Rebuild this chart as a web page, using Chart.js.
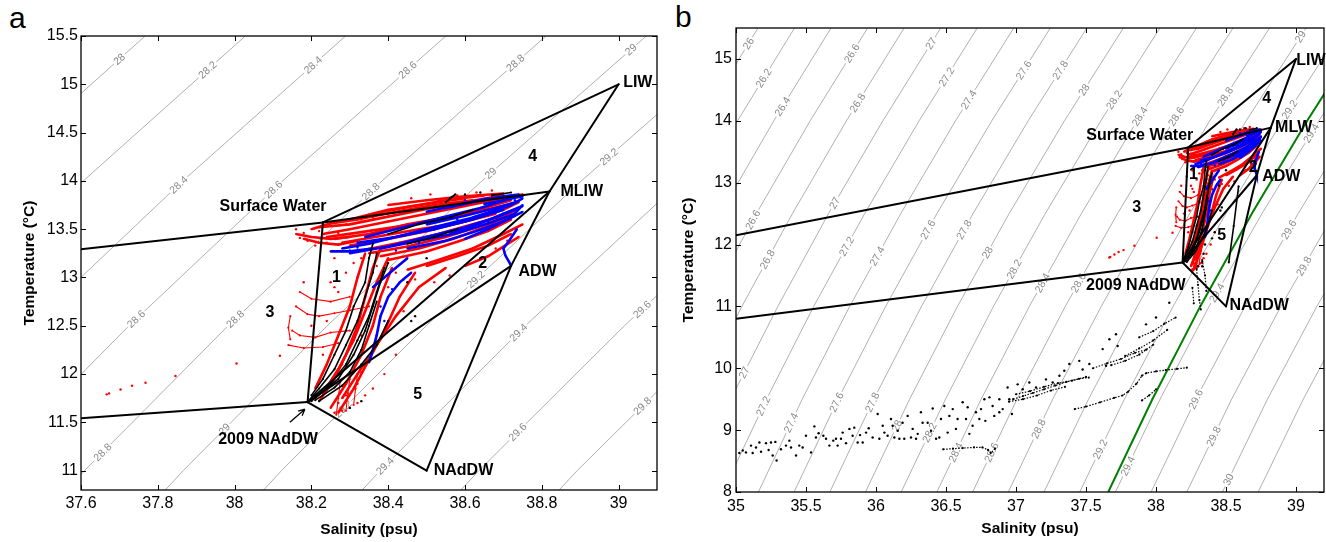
<!DOCTYPE html>
<html>
<head>
<meta charset="utf-8">
<title>T-S diagrams</title>
<script src="https://cdn.jsdelivr.net/npm/chart.js@4.4.1/dist/chart.umd.min.js"></script>
<style>
  body { margin: 0; background: #fff; width: 1326px; height: 542px; position: relative; overflow: hidden;
         font-family: "Liberation Sans", Arial, Helvetica, sans-serif; }
  .panel { position: absolute; top: 0; width: 663px; height: 542px; }
  #wrapA { left: 0; }
  #wrapB { left: 663px; }
  .letter { position: absolute; font-size: 30px; line-height: 30px; color: #000; }
</style>
</head>
<body>
<div class="letter" style="left:9px;top:3px">a</div>
<div class="letter" style="left:675px;top:2px">b</div>
<div class="panel" id="wrapA"><canvas id="chartA" width="663" height="542"></canvas></div>
<div class="panel" id="wrapB"><canvas id="chartB" width="663" height="542"></canvas></div>

<script>
// ---- isopycnals (sigma-theta), salinity at fixed temperatures ----
const isoTemps = [8, 9.5, 11, 12.5, 14, 15.5];
const isoLevels = ['26', '26.2', '26.4', '26.6', '26.8', '27', '27.2', '27.4', '27.6', '27.8',
                   '28', '28.2', '28.4', '28.6', '28.8', '29', '29.2', '29.4', '29.6', '29.8', '30', '30.2'];
const isoSal = [
  [33.375, 33.684, 34.015, 34.371, 34.751, 35.157],
  [33.630, 33.940, 34.272, 34.629, 35.011, 35.418],
  [33.885, 34.195, 34.528, 34.887, 35.270, 35.679],
  [34.140, 34.451, 34.785, 35.145, 35.530, 35.940],
  [34.395, 34.706, 35.042, 35.403, 35.789, 36.201],
  [34.650, 34.962, 35.299, 35.661, 36.049, 36.462],
  [34.905, 35.218, 35.555, 35.919, 36.308, 36.723],
  [35.160, 35.473, 35.812, 36.177, 36.568, 36.984],
  [35.415, 35.729, 36.069, 36.435, 36.827, 37.245],
  [35.670, 35.984, 36.325, 36.693, 37.087, 37.506],
  [35.925, 36.240, 36.582, 36.951, 37.346, 37.767],
  [36.180, 36.496, 36.839, 37.209, 37.606, 38.028],
  [36.435, 36.751, 37.095, 37.467, 37.865, 38.289],
  [36.690, 37.007, 37.352, 37.725, 38.125, 38.550],
  [36.945, 37.262, 37.609, 37.983, 38.384, 38.811],
  [37.200, 37.518, 37.866, 38.241, 38.644, 39.072],
  [37.455, 37.774, 38.122, 38.499, 38.903, 39.333],
  [37.710, 38.029, 38.379, 38.757, 39.163, 39.594],
  [37.965, 38.285, 38.636, 39.015, 39.422, 39.855],
  [38.220, 38.540, 38.892, 39.273, 39.682, 40.116],
  [38.475, 38.796, 39.149, 39.531, 39.941, 40.377],
  [38.730, 39.052, 39.406, 39.789, 40.201, 40.638]
];
// contour labels: [level, temperature where the label sits]
const isoLabelsA = [
  ['28', 15.26], ['28.2', 15.15], ['28.4', 15.2], ['28.4', 13.96], ['28.6', 15.15], ['28.6', 13.91],
  ['28.6', 12.57], ['28.8', 15.22], ['28.8', 13.89], ['28.8', 12.57], ['28.8', 11.19], ['29', 15.36],
  ['29', 14.08], ['29', 11.43], ['29.2', 14.25], ['29.2', 12.98], ['29.2', 11.64], ['29.4', 12.43],
  ['29.4', 11.05], ['29.6', 12.67], ['29.6', 11.4], ['29.8', 11.67]
];
const isoLabelsB = [
  ['26', 15.25], ['26.2', 14.69], ['26.4', 14.23], ['26.6', 15.09], ['26.8', 14.29], ['27', 15.25],
  ['27.2', 14.71], ['27.4', 14.34], ['26.6', 12.4], ['27', 12.67], ['26.8', 11.76], ['27.2', 11.97],
  ['27.4', 11.81], ['27.6', 12.24], ['27.8', 12.24], ['28', 11.87], ['27.6', 14.82], ['27.8', 14.82],
  ['28', 14.5], ['28.2', 14.34], ['28.4', 14.07], ['28.6', 14.07], ['28.8', 14.39], ['29', 15.36],
  ['29.2', 14.18], ['29.4', 13.8], ['29.6', 12.24], ['29.8', 11.65], ['28.2', 11.6], ['28.4', 11.38],
  ['28.6', 11.38], ['29.4', 11.22], ['27', 9.93], ['27.2', 9.39], ['27.4', 9.12], ['27.6', 9.45],
  ['27.8', 9.45], ['28', 9.07], ['28.2', 8.96], ['28.4', 8.64], ['28.6', 8.64], ['28.8', 9.02],
  ['29.2', 8.69], ['29.4', 8.42], ['29.6', 9.5], ['29.8', 8.9], ['30', 8.2]
];

// ---- water mass end-members and mixing triangles ----
const massNames = ['Surface Water', 'LIW', 'MLIW', 'ADW', '2009 NAdDW', 'NAdDW'];
const massSal = [38.23, 39.0, 38.82, 38.72, 38.19, 38.5];
const massTemp = [13.57, 15.0, 13.89, 13.12, 11.71, 11.0];
const massEdges = [[0, 1], [1, 2], [2, 3], [3, 5], [5, 4], [4, 3], [4, 2], [2, 0], [0, 4]];
// lines running off to the west from Surface Water and 2009 NAdDW
const westFrom = [0, 4];
const westSal = [35.0, 35.0];
const westTemp = [12.15, 10.8];

// isopycnal drawn in green on panel b
const greenTemp = [8, 9.5, 11, 12.5, 14, 15.5];
const greenSal = [37.659, 37.974, 38.316, 38.685, 39.08, 39.501];

// ---- observations (salinity, temperature) ----
const redTracks = [
  [[38.23, 13.45], [38.30, 13.50], [38.40, 13.58], [38.50, 13.66], [38.60, 13.74], [38.70, 13.82], [38.75, 13.86]],
  [[38.26, 13.40], [38.35, 13.45], [38.45, 13.55], [38.55, 13.62], [38.65, 13.72], [38.72, 13.80]],
  [[38.30, 13.33], [38.40, 13.40], [38.50, 13.48], [38.60, 13.58], [38.70, 13.70], [38.74, 13.78]],
  [[38.35, 13.25], [38.45, 13.32], [38.55, 13.42], [38.63, 13.52], [38.70, 13.62], [38.74, 13.72]],
  [[38.40, 13.18], [38.50, 13.27], [38.58, 13.37], [38.66, 13.48], [38.72, 13.60]],
  [[38.45, 13.08], [38.53, 13.18], [38.62, 13.30], [38.70, 13.45], [38.75, 13.55]],
  [[38.40, 13.75], [38.50, 13.80], [38.60, 13.84], [38.70, 13.87]],
  [[38.20, 13.50], [38.25, 13.56], [38.32, 13.60], [38.42, 13.68], [38.52, 13.75], [38.62, 13.80]],
  [[38.16, 13.45], [38.20, 13.42], [38.25, 13.40], [38.30, 13.42]],
  [[38.22, 13.52], [38.30, 13.55], [38.40, 13.63], [38.50, 13.71], [38.60, 13.78], [38.70, 13.85]],
  [[38.24, 13.42], [38.33, 13.47], [38.43, 13.53], [38.53, 13.60], [38.63, 13.68], [38.72, 13.76]],
  [[38.28, 13.36], [38.38, 13.43], [38.48, 13.50], [38.58, 13.56], [38.68, 13.66]],
  [[38.33, 13.28], [38.43, 13.36], [38.53, 13.45], [38.62, 13.55], [38.72, 13.66]],
  [[38.38, 13.22], [38.48, 13.30], [38.57, 13.40], [38.65, 13.52], [38.73, 13.64]],
  [[38.50, 13.12], [38.58, 13.22], [38.66, 13.33], [38.72, 13.45]],
  [[38.60, 13.12], [38.66, 13.22], [38.70, 13.32], [38.74, 13.42]],
  [[38.30, 13.60], [38.40, 13.70], [38.50, 13.76], [38.60, 13.82]],
  [[38.35, 13.65], [38.45, 13.73], [38.55, 13.80], [38.65, 13.85]],
  [[38.18, 13.40], [38.22, 13.36], [38.27, 13.34], [38.32, 13.38]],
  [[38.22, 11.72], [38.26, 11.95], [38.29, 12.20], [38.32, 12.50], [38.34, 12.80], [38.36, 13.10], [38.38, 13.30]],
  [[38.25, 11.65], [38.29, 11.90], [38.33, 12.20], [38.36, 12.50], [38.38, 12.80], [38.41, 13.10]],
  [[38.27, 11.60], [38.31, 11.85], [38.35, 12.15], [38.39, 12.45], [38.43, 12.80], [38.47, 13.05]],
  [[38.21, 11.85], [38.24, 12.10], [38.27, 12.40], [38.30, 12.70], [38.32, 13.00], [38.34, 13.25]],
  [[38.28, 11.75], [38.32, 12.00], [38.37, 12.30], [38.42, 12.60], [38.48, 12.90], [38.55, 13.10]],
  [[38.23, 11.80], [38.27, 12.05], [38.31, 12.35], [38.34, 12.65], [38.37, 12.95], [38.40, 13.20]]
];
// thin, sparse red profiles west of the main cloud
const redThinTracks = [
  [[38.265, 11.58], [38.27, 11.75], [38.275, 11.92]],
  [[38.29, 11.62], [38.295, 11.80], [38.30, 11.95]],
  [[38.31, 11.68], [38.315, 11.85], [38.32, 12.00]],
  [[38.16, 12.70], [38.19, 12.62], [38.22, 12.60], [38.26, 12.63], [38.30, 12.66], [38.35, 12.70]],
  [[38.15, 12.45], [38.17, 12.40], [38.21, 12.38], [38.25, 12.43], [38.30, 12.45]],
  [[38.14, 12.30], [38.18, 12.27], [38.23, 12.28], [38.27, 12.32]],
  [[38.17, 12.85], [38.20, 12.78], [38.25, 12.75], [38.30, 12.80]],
  [[38.145, 12.60], [38.14, 12.48], [38.145, 12.36]]
];
const redDots = [
  [38.16, 13.50], [38.18, 13.46], [38.19, 13.38], [38.21, 13.33], [38.17, 13.41], [38.22, 13.48], [38.24, 13.36],
  [38.27, 13.46], [38.29, 13.55], [38.33, 13.58], [38.36, 13.62], [38.39, 13.66], [38.44, 13.70], [38.47, 13.74],
  [38.53, 13.79], [38.58, 13.85], [38.63, 13.88], [38.67, 13.90], [38.46, 13.82], [38.51, 13.86],
  [38.33, 13.20], [38.37, 13.12], [38.42, 13.05], [38.47, 12.98], [38.52, 12.95], [38.56, 13.02], [38.60, 13.12],
  [38.64, 13.20], [38.68, 13.30], [38.71, 13.38], [38.25, 12.95], [38.27, 12.85], [38.29, 13.05], [38.31, 13.15],
  [38.24, 12.55], [38.26, 12.30], [38.28, 12.10], [38.33, 12.02], [38.36, 11.85], [38.39, 12.00], [38.42, 12.20],
  [38.45, 12.40], [38.44, 12.65], [38.40, 12.90], [38.26, 11.60], [38.28, 11.62], [38.30, 11.65], [38.32, 11.70],
  [38.34, 11.78], [38.27, 11.70], [38.29, 11.78], [38.18, 12.95], [38.22, 13.10], [38.26, 13.20], [38.20, 12.50],
  [38.23, 12.20], [38.26, 12.90], [38.32, 11.90], [38.33, 12.40],
  [37.667, 11.79], [37.673, 11.80], [37.703, 11.84], [37.733, 11.88], [37.768, 11.91], [37.846, 11.98],
  [38.005, 12.11], [38.118, 12.19]
];
const blueTracks = [
  [[38.28, 13.30], [38.35, 13.35], [38.45, 13.45], [38.55, 13.55], [38.65, 13.65], [38.72, 13.75], [38.75, 13.82]],
  [[38.30, 13.25], [38.40, 13.32], [38.50, 13.42], [38.60, 13.52], [38.68, 13.62], [38.74, 13.72]],
  [[38.34, 13.42], [38.44, 13.52], [38.54, 13.62], [38.64, 13.72], [38.72, 13.82]],
  [[38.45, 13.30], [38.55, 13.38], [38.63, 13.48], [38.70, 13.58], [38.75, 13.68]],
  [[38.55, 13.72], [38.62, 13.78], [38.70, 13.84], [38.74, 13.86]],
  [[38.60, 13.40], [38.66, 13.50], [38.72, 13.62], [38.75, 13.75]],
  [[38.50, 13.68], [38.58, 13.75], [38.66, 13.82]],
  [[38.32, 13.36], [38.42, 13.42], [38.52, 13.50], [38.62, 13.60], [38.70, 13.70]],
  [[38.38, 13.30], [38.48, 13.38], [38.58, 13.46], [38.66, 13.56], [38.73, 13.66]],
  [[38.50, 13.55], [38.60, 13.64], [38.68, 13.72], [38.74, 13.79]],
  [[38.56, 13.45], [38.64, 13.56], [38.70, 13.66], [38.75, 13.74]],
  [[38.62, 13.62], [38.68, 13.70], [38.73, 13.77]],
  [[38.65, 13.76], [38.70, 13.80], [38.75, 13.84]],
  [[38.25, 13.27], [38.30, 13.27], [38.36, 13.30]],
  [[38.735, 13.50], [38.715, 13.38], [38.70, 13.30], [38.705, 13.23], [38.715, 13.16], [38.72, 13.12]],
  [[38.35, 12.12], [38.36, 12.25], [38.37, 12.40], [38.38, 12.60], [38.40, 12.80], [38.43, 12.95], [38.46, 13.05]],
  [[38.36, 12.90], [38.39, 13.00], [38.42, 13.10], [38.45, 13.20]]
];
const blueDots = [
  [38.30, 13.28], [38.32, 13.31], [38.38, 13.38], [38.42, 13.28], [38.48, 13.36], [38.52, 13.50], [38.58, 13.60],
  [38.62, 13.66], [38.66, 13.58], [38.70, 13.66], [38.68, 13.78], [38.73, 13.80], [38.60, 13.80], [38.38, 12.70],
  [38.39, 12.55], [38.41, 12.88], [38.44, 12.98]
];
const blackTracks = [
  [[38.19, 11.71], [38.22, 11.85], [38.26, 12.05], [38.29, 12.30], [38.32, 12.55], [38.34, 12.80], [38.36, 13.05], [38.37, 13.25]],
  [[38.20, 11.72], [38.25, 11.90], [38.29, 12.10], [38.32, 12.35], [38.35, 12.60], [38.37, 12.85], [38.39, 13.10]],
  [[38.21, 11.75], [38.27, 11.95], [38.31, 12.20], [38.34, 12.45], [38.36, 12.70], [38.38, 12.95], [38.40, 13.15]],
  [[38.20, 11.78], [38.23, 11.95], [38.26, 12.20], [38.29, 12.45], [38.31, 12.70], [38.34, 12.95], [38.35, 13.20], [38.36, 13.35]],
  [[38.22, 11.72], [38.28, 11.88], [38.33, 12.10], [38.37, 12.30], [38.40, 12.55]],
  [[38.21, 11.73], [38.26, 11.86], [38.30, 12.02], [38.33, 12.25], [38.35, 12.50], [38.37, 12.75]],
  [[38.40, 13.45], [38.48, 13.55], [38.56, 13.62], [38.62, 13.70]],
  [[38.55, 13.78], [38.575, 13.86], [38.56, 13.82]],
  [[38.67, 13.85], [38.72, 13.88]],
  [[38.45, 13.35], [38.52, 13.42], [38.58, 13.50]]
];
const blackDots = [
  [38.46, 12.55], [38.47, 12.60], [38.30, 11.65], [38.33, 11.72], [38.45, 12.95], [38.50, 13.20], [38.60, 13.86], [38.64, 13.88]
];
// deeper / fresher stations, only on panel b
const lowerTracks = [
  [[36.98, 9.50], [37.05, 9.55], [37.12, 9.60], [37.20, 9.66], [37.28, 9.72], [37.36, 9.78], [37.45, 9.83], [37.52, 9.85]],
  [[37.00, 9.58], [37.10, 9.63], [37.20, 9.70], [37.30, 9.76], [37.40, 9.80], [37.50, 9.86]],
  [[36.95, 9.46], [37.05, 9.50], [37.15, 9.56], [37.25, 9.64], [37.35, 9.70]],
  [[36.48, 8.69], [36.55, 8.70], [36.62, 8.71], [36.70, 8.72], [36.76, 8.72], [36.80, 8.68], [36.82, 8.63], [36.85, 8.70]],
  [[37.42, 9.34], [37.50, 9.38], [37.60, 9.45], [37.70, 9.52], [37.76, 9.56], [37.80, 9.62], [37.86, 9.75], [37.90, 9.88],
   [37.93, 9.92], [38.00, 9.95], [38.07, 9.97], [38.15, 9.99], [38.22, 10.01]],
  [[37.90, 9.48], [37.95, 9.56], [38.00, 9.66]],
  [[37.55, 10.00], [37.65, 10.08], [37.75, 10.15], [37.85, 10.25], [37.93, 10.30]],
  [[37.68, 10.05], [37.78, 10.12], [37.88, 10.22], [37.98, 10.38]],
  [[37.78, 10.20], [37.88, 10.32], [37.98, 10.45], [38.08, 10.62]],
  [[37.88, 10.50], [37.98, 10.60], [38.06, 10.72], [38.14, 10.82]],
  [[38.29, 11.60], [38.30, 11.35], [38.31, 11.10], [38.32, 10.95]],
  [[38.33, 11.75], [38.35, 11.50], [38.36, 11.25]],
  [[38.26, 11.30], [38.27, 11.05]]
];
const lowerLines = [
  [[38.59, 12.94], [38.555, 12.30], [38.52, 11.71]]
];
const lowerDots = [
  [35.024, 8.63], [35.071, 8.64], [35.107, 8.75], [35.143, 8.72], [35.179, 8.65], [35.214, 8.79], [35.25, 8.80],
  [35.281, 8.81], [35.29, 8.51], [35.321, 8.69], [35.357, 8.75], [35.393, 8.72], [35.429, 8.59], [35.452, 8.75],
  [35.5, 8.91], [35.536, 8.64], [35.56, 9.06], [35.59, 8.95], [35.624, 8.91], [35.667, 8.75], [35.695, 8.83],
  [35.714, 8.86], [35.75, 8.86], [35.786, 8.79], [35.81, 9.02], [35.845, 9.04], [35.886, 8.92], [35.905, 8.80],
  [35.948, 9.03], [35.976, 8.88], [36.012, 9.26], [36.048, 9.07], [36.083, 8.91], [36.107, 9.18], [36.131, 8.88],
  [36.167, 8.86], [36.202, 8.86], [36.226, 9.23], [36.25, 8.88], [36.286, 8.86], [36.321, 9.29], [36.369, 9.12],
  [36.405, 9.35], [36.429, 8.86], [36.452, 8.88], [36.488, 9.39], [36.512, 8.96], [36.548, 9.34], [36.583, 9.18],
  [36.619, 9.45], [36.655, 9.37], [36.667, 8.94], [36.714, 9.29], [36.75, 9.34], [36.781, 9.15], [36.81, 9.53],
  [36.845, 9.23], [36.881, 9.50], [36.905, 9.34], [36.94, 9.69], [36.971, 9.26], [37.012, 9.74], [37.095, 9.77],
  [37.214, 9.82], [37.345, 9.96], [37.381, 10.07], [37.452, 10.12], [37.643, 10.04], [37.714, 10.55], [37.726, 10.36],
  [37.929, 10.71], [38.0, 10.82], [38.095, 11.06],
  [35.048, 8.67], [35.119, 8.63], [35.167, 8.80], [35.233, 8.68], [35.262, 8.59], [35.381, 8.83], [35.476, 8.72],
  [35.571, 8.88], [35.643, 8.86], [35.726, 8.75], [35.762, 8.96], [35.833, 8.91], [35.869, 8.80], [35.929, 8.96],
  [36.024, 8.86], [36.06, 8.96], [36.119, 9.07], [36.155, 8.99], [36.19, 9.12], [36.262, 9.02], [36.298, 8.94],
  [36.333, 9.12], [36.393, 8.99], [36.464, 9.18], [36.524, 9.23], [36.571, 9.02], [36.643, 9.18], [36.69, 9.07],
  [36.738, 9.18], [36.774, 9.50], [36.833, 9.39], [36.881, 9.29], [36.952, 9.50], [37.048, 9.66], [37.143, 9.69],
  [37.262, 9.77], [37.31, 9.88], [37.476, 9.98], [37.524, 10.07], [37.619, 10.31], [37.667, 10.47],
  [38.35, 12.0], [38.34, 11.85], [38.33, 11.65], [38.40, 12.1], [38.42, 12.2]
];

// ---- axes ----
const salTicksA = [37.6, 37.8, 38, 38.2, 38.4, 38.6, 38.8, 39];
const tempTicksA = [11, 11.5, 12, 12.5, 13, 13.5, 14, 14.5, 15, 15.5];
const salTicksB = [35, 35.5, 36, 36.5, 37, 37.5, 38, 38.5, 39];
const tempTicksB = [8, 9, 10, 11, 12, 13, 14, 15];

// ---- text on the panels: [text, salinity, temperature] ----
const notesA = [
  ['Surface Water', 38.10, 13.73], ['LIW', 39.05, 15.02], ['4', 38.776, 14.25], ['MLIW', 38.904, 13.89],
  ['ADW', 38.789, 13.065], ['2', 38.646, 13.145], ['1', 38.265, 13.0], ['3', 38.092, 12.635],
  ['5', 38.477, 11.79], ['2009 NAdDW', 38.087, 11.327], ['NAdDW', 38.596, 11.0]
];
const notesB = [
  ['Surface Water', 37.884, 13.758], ['LIW', 39.107, 14.97], ['4', 38.791, 14.366], ['MLW', 38.984, 13.892],
  ['ADW', 38.895, 13.102], ['2', 38.695, 13.237], ['1', 38.267, 13.129], ['3', 37.862, 12.592],
  ['5', 38.469, 12.145], ['2009 NAdDW', 37.856, 11.339], ['NAdDW', 38.737, 11.005]
];
const arrowA = [[38.144, 11.502], [38.183, 11.636]];

const FONT = "'Liberation Sans', Arial, Helvetica, sans-serif";
Chart.defaults.font.family = FONT;
Chart.defaults.color = '#000';

const xy = p => ({ x: p[0], y: p[1] });

function isoSets() {
  return isoSal.map((row, i) => ({
    label: 'sigma ' + isoLevels[i],
    data: row.map((s, j) => ({ x: s, y: isoTemps[j] })),
    showLine: true, borderColor: '#9c9c9c', borderWidth: 0.8, pointRadius: 0, order: 10
  }));
}

function edgeSets() {
  const line = (a, b) => ({
    data: [a, b], showLine: true, borderColor: '#000', borderWidth: 2,
    pointRadius: 0, order: 0, borderCapStyle: 'round'
  });
  const sets = massEdges.map(([i, j]) => line({ x: massSal[i], y: massTemp[i] }, { x: massSal[j], y: massTemp[j] }));
  westFrom.forEach((m, k) => sets.push(line({ x: westSal[k], y: westTemp[k] }, { x: massSal[m], y: massTemp[m] })));
  return sets;
}

function trackSets(tracks, color, order, width, dash) {
  return tracks.map(t => ({
    data: t.map(xy), showLine: true, borderColor: color, borderWidth: width, borderDash: dash || [],
    pointRadius: 1.1, pointBackgroundColor: color, pointBorderWidth: 0, order
  }));
}

function dotSet(dots, color, order) {
  return { data: dots.map(xy), showLine: false, pointRadius: 1.2, pointBackgroundColor: color,
           pointBorderWidth: 0, order };
}

const fmt = v => String(Number(Number(v).toFixed(1)));

// contour labels, annotations and the box with inward ticks
const tsDecor = {
  id: 'tsDecor',
  afterDatasetDraw(chart, args, opts) {
    if (args.index !== 0) return; // last isopycnal drawn -> put labels on them
    const { ctx, chartArea: ca, scales: { x, y } } = chart;
    ctx.save();
    ctx.beginPath();
    ctx.rect(ca.left, ca.top, ca.width, ca.height);
    ctx.clip();
    ctx.font = '10.5px ' + FONT;
    ctx.textAlign = 'center';
    ctx.textBaseline = 'middle';
    opts.labels.forEach(([lev, t]) => {
      const row = isoSal[isoLevels.indexOf(lev)];
      let j = 0;
      while (j < isoTemps.length - 2 && t > isoTemps[j + 1]) j++;
      const f = (t - isoTemps[j]) / (isoTemps[j + 1] - isoTemps[j]);
      const s = row[j] + f * (row[j + 1] - row[j]);
      const ang = Math.atan2(y.getPixelForValue(isoTemps[j + 1]) - y.getPixelForValue(isoTemps[j]),
                             x.getPixelForValue(row[j + 1]) - x.getPixelForValue(row[j]));
      ctx.save();
      ctx.translate(x.getPixelForValue(s), y.getPixelForValue(t));
      ctx.rotate(ang);
      const w = ctx.measureText(lev).width;
      ctx.fillStyle = '#fff';
      ctx.fillRect(-w / 2 - 1.5, -4, w + 3, 8);
      ctx.fillStyle = '#8a8a8a';
      ctx.fillText(lev, 0, 0.5);
      ctx.restore();
    });
    ctx.restore();
  },
  afterDatasetsDraw(chart, args, opts) {
    const { ctx, scales: { x, y } } = chart;
    ctx.save();
    ctx.font = 'bold 16px ' + FONT;
    ctx.fillStyle = '#000';
    ctx.textAlign = 'center';
    ctx.textBaseline = 'middle';
    opts.notes.forEach(([txt, s, t]) => ctx.fillText(txt, x.getPixelForValue(s), y.getPixelForValue(t)));
    if (opts.arrow) {
      const [a, b] = opts.arrow;
      const x0 = x.getPixelForValue(a[0]), y0 = y.getPixelForValue(a[1]);
      const x1 = x.getPixelForValue(b[0]), y1 = y.getPixelForValue(b[1]);
      const ang = Math.atan2(y1 - y0, x1 - x0);
      ctx.strokeStyle = '#000';
      ctx.lineWidth = 1.3;
      ctx.beginPath();
      ctx.moveTo(x0, y0); ctx.lineTo(x1, y1);
      ctx.moveTo(x1, y1); ctx.lineTo(x1 - 7 * Math.cos(ang - 0.45), y1 - 7 * Math.sin(ang - 0.45));
      ctx.moveTo(x1, y1); ctx.lineTo(x1 - 7 * Math.cos(ang + 0.45), y1 - 7 * Math.sin(ang + 0.45));
      ctx.stroke();
    }
    ctx.restore();
  },
  afterDraw(chart) {
    const { ctx, chartArea: ca, scales: { x, y } } = chart;
    ctx.save();
    ctx.strokeStyle = '#000';
    ctx.lineWidth = 1.3;
    ctx.strokeRect(ca.left, ca.top, ca.width, ca.height);
    ctx.lineWidth = 1;
    ctx.beginPath();
    x.ticks.forEach(tk => {
      const px = Math.round(x.getPixelForValue(tk.value)) + 0.5;
      ctx.moveTo(px, ca.bottom); ctx.lineTo(px, ca.bottom - 5);
      ctx.moveTo(px, ca.top); ctx.lineTo(px, ca.top + 5);
    });
    y.ticks.forEach(tk => {
      const py = Math.round(y.getPixelForValue(tk.value)) + 0.5;
      ctx.moveTo(ca.left, py); ctx.lineTo(ca.left + 5, py);
      ctx.moveTo(ca.right, py); ctx.lineTo(ca.right - 5, py);
    });
    ctx.stroke();
    ctx.restore();
  }
};

function makeChart(id, c) {
  return new Chart(document.getElementById(id), {
    type: 'scatter',
    data: { datasets: c.datasets },
    options: {
      responsive: false,
      animation: false,
      events: [],
      layout: { padding: c.pad, autoPadding: false },
      plugins: {
        legend: { display: false },
        tooltip: { enabled: false },
        tsDecor: { labels: c.labels, notes: c.notes, arrow: c.arrow }
      },
      scales: {
        x: {
          type: 'linear', min: c.xr[0], max: c.xr[1],
          afterBuildTicks: s => { s.ticks = c.xt.map(v => ({ value: v })); },
          afterFit: s => { s.height = c.xh; },
          grid: { display: false, drawTicks: false },
          border: { display: false },
          ticks: { padding: c.xpad, autoSkip: false, maxRotation: 0, font: { size: 16 }, color: '#000', callback: fmt },
          title: { display: true, text: 'Salinity (psu)', color: '#000',
                   font: { size: 15.5, weight: 'bold' }, padding: { top: 0, bottom: c.xtp } }
        },
        y: {
          type: 'linear', min: c.yr[0], max: c.yr[1],
          afterBuildTicks: s => { s.ticks = c.yt.map(v => ({ value: v })); },
          afterFit: s => { s.width = c.yw; },
          grid: { display: false, drawTicks: false },
          border: { display: false },
          ticks: { padding: c.ypad, autoSkip: false, font: { size: 16 }, color: '#000', callback: fmt },
          title: { display: true, text: 'Temperature (°C)', color: '#000',
                   font: { size: 15.5, weight: 'bold' }, padding: { top: c.ytp, bottom: 0 } }
        }
      }
    },
    plugins: [tsDecor]
  });
}

const shared = () => [
  ...edgeSets(),
  ...trackSets(blackTracks, '#000000', 1, 1.6), dotSet(blackDots, '#000000', 1),
  ...trackSets(blueTracks, '#0000ff', 2, 2.6), dotSet(blueDots, '#0000ff', 2),
  ...trackSets(redTracks, '#ff0000', 3, 2.6), ...trackSets(redThinTracks, '#ff0000', 3, 1.1),
  dotSet(redDots, '#ff0000', 3)
];

makeChart('chartA', {
  datasets: [...isoSets(), ...shared()],
  pad: { left: 0, top: 36, right: 6, bottom: 0 },
  xr: [37.6, 39.1], yr: [10.8, 15.5], xt: salTicksA, yt: tempTicksA,
  xh: 52, yw: 81, xpad: 4, ypad: 3, xtp: 3, ytp: 20,
  labels: isoLabelsA, notes: notesA, arrow: arrowA
});

makeChart('chartB', {
  datasets: [
    ...isoSets(),
    { data: greenSal.map((s, i) => ({ x: s, y: greenTemp[i] })), showLine: true, borderColor: '#007f00',
      borderWidth: 2, pointRadius: 0, order: 4 },
    ...shared(),
    ...trackSets(lowerTracks, '#000000', 1, 1.2, [1.5, 1.5]),
    ...trackSets(lowerLines, '#000000', 1, 1.6),
    dotSet(lowerDots, '#000000', 1)
  ],
  pad: { left: 0, top: 28, right: 2, bottom: 0 },
  xr: [35, 39.2], yr: [8, 15.5], xt: salTicksB, yt: tempTicksB,
  xh: 50, yw: 73, xpad: 5, ypad: 4, xtp: 4, ytp: 16,
  labels: isoLabelsB, notes: notesB, arrow: null
});
</script>
</body>
</html>
